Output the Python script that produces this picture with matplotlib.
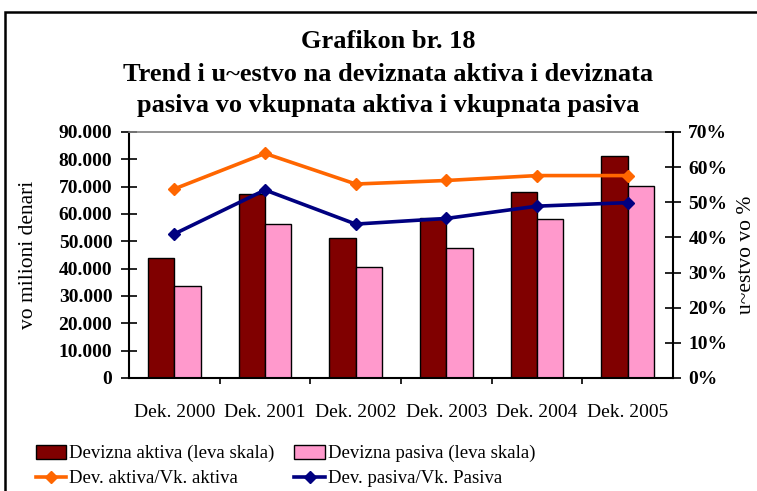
import matplotlib
matplotlib.use("Agg")
import matplotlib.pyplot as plt
from matplotlib.patches import Rectangle, Patch
from matplotlib.lines import Line2D
from matplotlib.ticker import FuncFormatter, FixedLocator
import numpy as np

categories = ["Dek. 2000", "Dek. 2001", "Dek. 2002", "Dek. 2003", "Dek. 2004", "Dek. 2005"]
devizna_aktiva = [43800, 67200, 51100, 58400, 67900, 81200]
devizna_pasiva = [33700, 56200, 40700, 47400, 58200, 70200]
aktiva_udel = [53.8, 63.9, 55.2, 56.2, 57.6, 57.6]
pasiva_udel = [41.0, 53.5, 43.8, 45.4, 48.9, 49.9]

title_lines = ["Grafikon br. 18",
               "Trend i u~estvo na deviznata aktiva i deviznata",
               "pasiva vo vkupnata aktiva i vkupnata pasiva"]
left_label = "vo milioni denari"
right_label = "u~estvo vo %"
legend_labels = ["Devizna aktiva (leva skala)", "Dev. aktiva/Vk. aktiva",
                 "Devizna pasiva (leva skala)", "Dev. pasiva/Vk. Pasiva"]

plt.rcParams['font.family'] = ['Liberation Serif', 'DejaVu Serif']

dark = "#800000"
pink = "#FF99CC"
orange = "#FF6600"
navy = "#000080"

fig = plt.figure(figsize=(7.57, 4.91), dpi=100)
W, H = 757, 491
ax = fig.add_axes([129 / W, 1 - 378 / H, 544 / W, 246 / H])

x = np.arange(len(categories))
bw = 0.29
ax.bar(x - bw / 2, devizna_aktiva, bw, color=dark, edgecolor="black", linewidth=1)
ax.bar(x + bw / 2, devizna_pasiva, bw, color=pink, edgecolor="black", linewidth=1)
ax.set_xlim(-0.5, len(categories) - 0.5)
ax.set_ylim(0, 90000)
ax.set_yticks(np.arange(0, 90001, 10000))
ax.yaxis.set_major_formatter(FuncFormatter(lambda v, p: "0" if v == 0 else f"{int(v):,}".replace(",", ".")))
ax.tick_params(axis="y", direction="inout", length=12, width=1.2, pad=6, labelsize=14)
for t in ax.get_yticklabels():
    t.set_fontweight("bold")
ax.set_xticks(x)
ax.set_xticklabels(categories, fontsize=14)
ax.xaxis.set_minor_locator(FixedLocator(np.arange(0.5, len(categories) - 0.5, 1.0)))
ax.tick_params(axis="x", which="major", length=0, pad=19)
ax.tick_params(axis="x", which="minor", direction="out", length=4, width=1.2)
ax.spines["top"].set_color("#808080")
ax.spines["top"].set_linewidth(1.2)
ax.spines["right"].set_visible(False)
for s in ("left", "bottom"):
    ax.spines[s].set_linewidth(1.5)
ax.set_ylabel(left_label, fontsize=15.5)
ax.yaxis.set_label_coords(-0.168, 0.5)

ax2 = ax.twinx()
ax2.plot(x, aktiva_udel, color=orange, linewidth=2.6, marker="D", markersize=6)
ax2.plot(x, pasiva_udel, color=navy, linewidth=2.6, marker="D", markersize=6)
ax2.set_ylim(0, 70)
ax2.set_yticks(np.arange(0, 71, 10))
ax2.yaxis.set_major_formatter(FuncFormatter(lambda v, p: f"{int(v)}%"))
ax2.tick_params(axis="y", direction="inout", length=12, width=1.2, pad=5, labelsize=14)
for t in ax2.get_yticklabels():
    t.set_fontweight("bold")
for s in ("top", "left", "bottom"):
    ax2.spines[s].set_visible(False)
ax2.spines["right"].set_linewidth(1.5)
ax2.set_ylabel(right_label, fontsize=15.5, rotation=90)
ax2.yaxis.set_label_coords(1.118, 0.5)

# titles
for line, yb in zip(title_lines, [48, 81, 112]):
    fig.text(388 / W, 1 - yb / H, line, ha="center", va="baseline",
             fontsize=19, fontweight="bold")

# legend
handles = [Patch(facecolor=dark, edgecolor="black", linewidth=1),
           Line2D([], [], color=orange, linewidth=2.6, marker="D", markersize=6),
           Patch(facecolor=pink, edgecolor="black", linewidth=1),
           Line2D([], [], color=navy, linewidth=2.6, marker="D", markersize=6)]
fig.legend(handles, legend_labels, ncol=2, loc="upper left",
           bbox_to_anchor=(28 / W, 1 - 437 / H), frameon=False, fontsize=13.5,
           handlelength=1.65, handleheight=0.8, handletextpad=0.15,
           columnspacing=1.05, labelspacing=0.4, borderaxespad=0)

# outer frame
fig.add_artist(Rectangle((5 / W, -0.1), 1.2, 1 - 12 / H + 0.1, transform=fig.transFigure,
                         fill=False, edgecolor="black", linewidth=1.8))

fig.savefig("out.png", dpi=100)
